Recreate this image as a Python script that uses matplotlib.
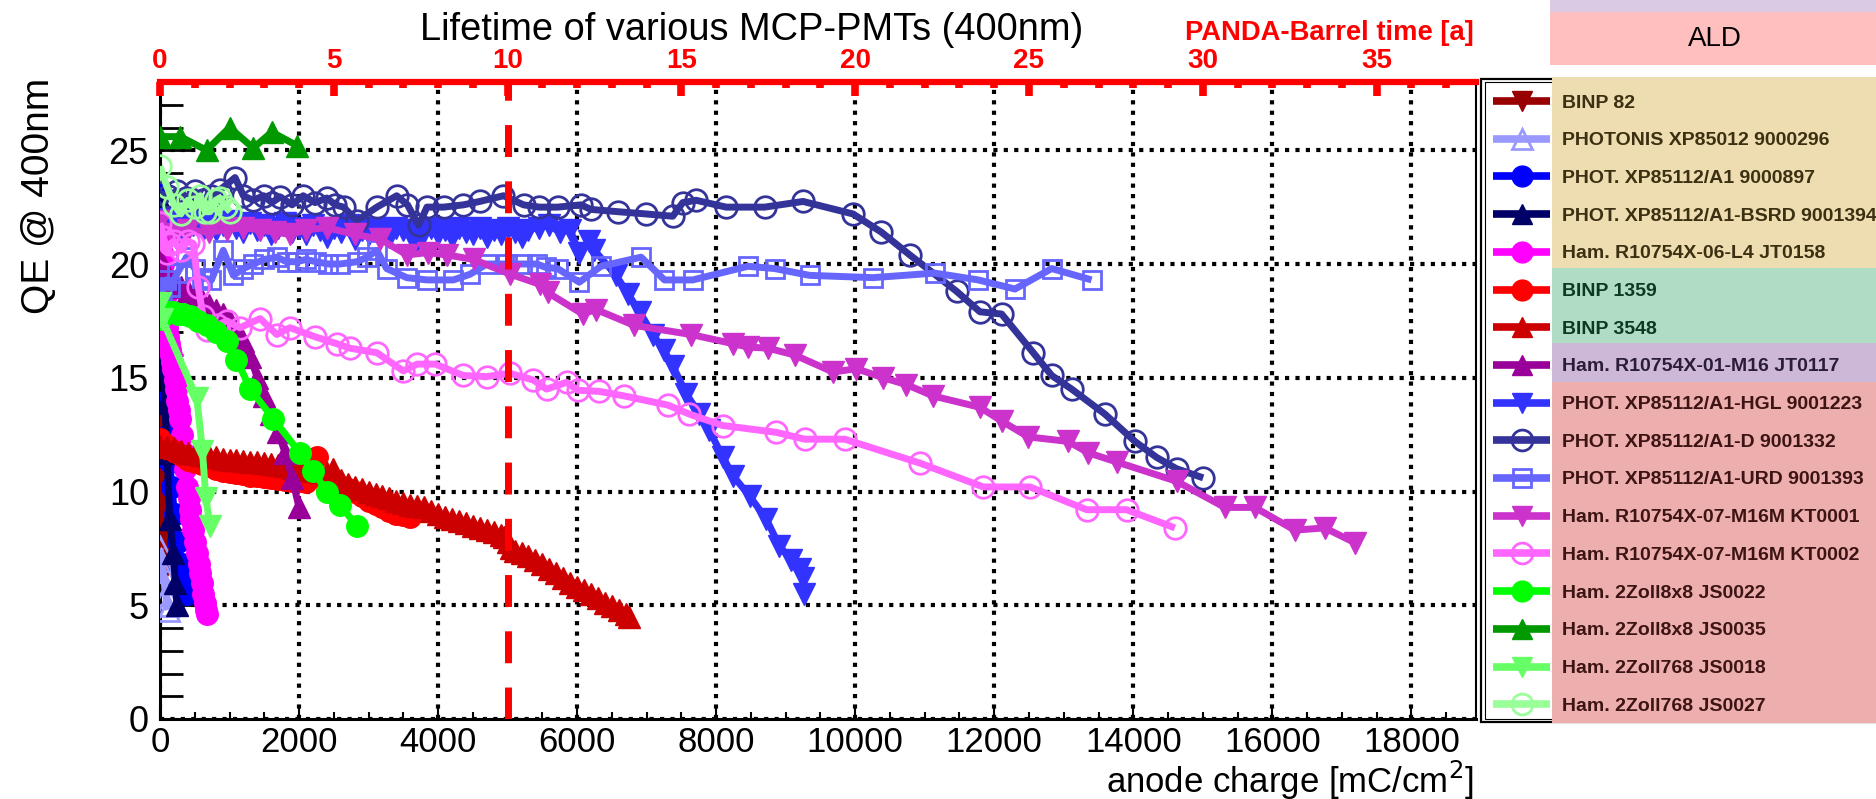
import matplotlib
matplotlib.use("Agg")
import matplotlib.pyplot as plt
from matplotlib.lines import Line2D
from matplotlib.patches import Rectangle
from matplotlib.ticker import MultipleLocator

plt.rcParams['font.family'] = ['Liberation Sans', 'DejaVu Sans']

# ---------------- data ----------------
binp82_x = [0, 5, 10, 15, 20, 25, 30, 35, 40, 45, 50, 55, 60, 65]
binp82_y = [13.7, 13.0, 12.3, 11.8, 11.2, 10.6, 10.0, 9.5, 9.0, 8.5, 8.0, 7.5, 7.0, 6.6]

xp85012_x = [0, 20, 40, 60, 80, 100, 120]
xp85012_y = [7.5, 7.0, 6.5, 6.0, 5.5, 5.0, 4.8]

a1_897_x = [0, 10, 25, 40, 60, 80, 110, 140, 170, 210, 260, 310, 360, 390]
a1_897_y = [23.1, 21.5, 19.5, 17.5, 15.5, 14.0, 12.5, 11.3, 10.2, 9.0, 7.8, 6.8, 6.0, 5.5]

bsrd_x = [0, 15, 30, 50, 70, 100, 140, 190, 220, 245]
bsrd_y = [22.8, 20.0, 17.5, 15.5, 13.9, 11.7, 8.8, 7.3, 6.0, 5.0]

jt0158_x = [0, 10, 20, 30, 40, 50, 60, 70, 80, 90, 100, 115, 130, 145, 160, 175, 190, 210, 230,
            250, 270, 290, 315, 340, 360, 385, 410, 430, 450, 475, 500, 530, 560, 580, 600, 625,
            650, 665, 680]
jt0158_y = [21.7, 21.3, 21.0, 20.5, 20.0, 19.5, 19.0, 18.5, 18.0, 17.6, 17.2, 16.8, 16.5, 16.2,
            16.0, 15.7, 15.4, 14.9, 14.5, 14.0, 13.6, 13.2, 12.5, 11.7, 11.0, 10.2, 9.7, 9.2, 8.8,
            8.3, 7.8, 7.3, 6.8, 6.4, 6.0, 5.5, 5.1, 4.8, 4.6]

binp1359_x = [0, 100, 200, 300, 400, 500, 600, 700, 800, 900, 1000, 1100, 1200, 1300, 1400, 1500,
              1600, 1700, 1800, 1900, 2000, 2100, 2260, 2400, 2500, 2600, 2700, 2800, 2900, 3000,
              3100, 3200, 3300, 3400, 3500, 3600]
binp1359_y = [12.3, 12.0, 11.8, 11.6, 11.4, 11.3, 11.2, 11.1, 11.0, 10.9, 10.85, 10.8, 10.75, 10.7,
              10.7, 10.65, 10.6, 10.55, 10.5, 10.45, 10.45, 10.4, 11.5, 10.3, 10.25, 10.2, 10.1, 10.0,
              9.8, 9.6, 9.45, 9.3, 9.15, 9.0, 8.95, 8.9]

binp3548_x = [0, 100, 200, 300, 400, 500, 600, 700, 800, 900, 1000, 1100, 1200, 1300, 1400, 1500,
              1600, 1700, 1800, 1900, 2000, 2100, 2200, 2300, 2400, 2490, 2600, 2700, 2800, 2900,
              3000, 3100, 3200, 3300, 3400, 3500, 3600, 3700, 3800, 3900, 4000, 4100, 4200, 4300,
              4400, 4500, 4600, 4700, 4800, 4900, 4950, 5000, 5050, 5100, 5200, 5300, 5400, 5500,
              5600, 5700, 5800, 5900, 6000, 6100, 6200, 6300, 6400, 6500, 6600, 6700, 6750]
binp3548_y = [12.0, 11.95, 11.9, 11.8, 11.7, 11.65, 11.6, 11.55, 11.5, 11.45, 11.4, 11.4, 11.35,
              11.3, 11.3, 11.25, 11.2, 11.15, 11.1, 11.05, 11.0, 10.95, 10.9, 10.85, 10.8, 11.0,
              10.5, 10.35, 10.2, 10.1, 10.0, 9.9, 9.8, 9.7, 9.6, 9.5, 9.4, 9.35, 9.3, 9.15, 9.0,
              8.9, 8.8, 8.7, 8.6, 8.5, 8.4, 8.3, 8.2, 8.1, 8.0, 7.8, 7.5, 7.4, 7.3, 7.15, 7.0, 6.8,
              6.6, 6.4, 6.2, 6.0, 5.8, 5.65, 5.5, 5.3, 5.1, 4.95, 4.8, 4.6, 4.5]

jt0117_x = [0, 50, 100, 200, 300, 400, 500, 600, 700, 800, 900, 1000, 1100, 1200, 1300, 1400,
            1500, 1600, 1700, 1800, 1900, 2000]
jt0117_y = [20.2, 19.8, 19.5, 19.2, 19.0, 18.8, 18.6, 18.4, 18.2, 18.0, 17.8, 17.5, 17.1, 16.6, 15.9, 15.0,
            14.2, 13.4, 12.6, 11.7, 10.6, 9.3]

hgl_x = [0, 80, 160, 240, 320, 400, 480, 560, 640, 720, 800, 900, 1000, 1100, 1200, 1300, 1400,
         1500, 1600, 1700, 1800, 1900, 2000, 2100, 2200, 2300, 2400, 2500, 2600, 2700, 2800, 2900,
         3000, 3100, 3200, 3300, 3400, 3500, 3600, 3700, 3800, 3900, 4000, 4100, 4200, 4300, 4400,
         4500, 4600, 4700, 4800, 4900, 5000, 5100, 5200, 5300, 5450, 5600, 5750, 5900, 6030, 6175,
         6250, 6560, 6730, 6900, 7090, 7250, 7380, 7570, 7760, 7900, 8100, 8240, 8480, 8720, 8910,
         9080, 9200, 9250, 9265]
hgl_y = [22.0, 21.8, 21.6, 21.9, 21.5, 21.8, 21.7, 21.9, 21.6, 21.8, 21.5, 21.7, 21.9, 21.6, 21.4,
         21.8, 21.5, 21.7, 21.3, 21.6, 21.8, 21.4, 21.6, 21.3, 21.7, 21.5, 21.2, 21.6, 21.4, 21.7,
         21.1, 21.5, 21.3, 21.6, 21.4, 21.2, 21.6, 21.5, 21.3, 21.0, 21.4, 21.6, 21.3, 21.5, 21.2,
         21.6, 21.4, 21.3, 21.6, 21.2, 21.5, 21.3, 21.6, 21.4, 21.2, 21.5, 21.6, 21.7, 21.4, 21.5,
         20.5, 21.0, 20.6, 19.5, 18.7, 17.9, 16.9, 16.2, 15.5, 14.3, 13.4, 12.7, 11.5, 10.7, 9.8,
         8.8, 7.6, 7.0, 6.6, 6.2, 5.5]

d1332_x = [0, 120, 240, 370, 500, 620, 740, 860, 1080, 1200, 1340, 1490, 1610, 1730, 1900, 2060,
           2230, 2400, 2520, 2640, 2830, 3120, 3405, 3560, 3720, 3840, 4080, 4365, 4600, 4940, 5230,
           5455, 5719, 6055, 6199, 6583, 6992, 7376, 7520, 7712, 8144, 8697, 9249, 9969, 10377,
           10785, 11458, 11794, 12106, 12562, 12826, 13114, 13593, 14024, 14335, 14623, 15006]
d1332_y = [23.1, 23.0, 23.2, 22.9, 23.2, 22.8, 23.0, 23.25, 23.8, 23.0, 22.8, 23.0, 22.7, 22.95, 22.6,
           23.0, 22.7, 22.9, 22.6, 22.5, 21.9, 22.5, 23.0, 22.6, 21.7, 22.5, 22.5, 22.6, 22.75, 23.0,
           22.6, 22.5, 22.5, 22.6, 22.4, 22.3, 22.2, 22.1, 22.7, 22.8, 22.5, 22.5, 22.75, 22.2, 21.4,
           20.4, 18.8, 17.9, 17.8, 16.1, 15.1, 14.5, 13.4, 12.2, 11.5, 11.0, 10.6]

urd_x = [0, 30, 90, 150, 250, 380, 500, 600, 740, 910, 1055, 1200, 1340, 1500, 1680, 1820, 1970,
         2100, 2250, 2420, 2590, 2830, 2980, 3120, 3260, 3550, 3840, 4220, 4460, 4700, 4990, 5200,
         5420, 5550, 5719, 6031, 6343, 6920, 7256, 7664, 8456, 8840, 9345, 10256, 11145, 11770,
         12298, 12826, 13400]
urd_y = [17.8, 18.8, 19.3, 19.0, 19.6, 20.3, 19.8, 19.4, 19.3, 20.6, 19.5, 19.8, 20.0, 20.2, 20.3,
         20.1, 20.1, 20.2, 20.1, 20.0, 20.0, 20.1, 20.3, 20.6, 19.8, 19.4, 19.3, 19.3, 19.55, 20.0,
         20.0, 20.0, 20.0, 19.85, 19.8, 19.2, 19.9, 20.3, 19.3, 19.3, 19.9, 19.8, 19.5, 19.4, 19.6,
         19.3, 18.9, 19.8, 19.3]

kt0001_x = [0, 190, 400, 700, 960, 1200, 1440, 1650, 1870, 2100, 2400, 2800, 3165, 3550, 3850,
            4125, 4510, 5040, 5470, 5575, 6079, 6271, 6823, 7640, 8240, 8456, 8744, 9129, 9681,
            10017, 10401, 10737, 11121, 11794, 12106, 12490, 13066, 13353, 13760, 14623, 15317,
            15749, 16323, 16755, 17186]
kt0001_y = [21.9, 21.3, 21.5, 21.4, 21.5, 21.6, 21.5, 21.4, 21.3, 21.5, 21.6, 21.3, 21.1, 20.4, 20.5,
            20.4, 20.2, 19.55, 19.1, 18.75, 17.8, 18.0, 17.3, 16.9, 16.5, 16.35, 16.3, 16.0, 15.25,
            15.4, 15.0, 14.7, 14.2, 13.7, 13.1, 12.4, 12.2, 11.7, 11.3, 10.45, 9.3,
            9.3, 8.3, 8.4, 7.75]

kt0002_x = [0, 50, 100, 150, 200, 300, 400, 480, 550, 620, 670, 815, 960, 1150, 1440, 1680, 1870,
            2230, 2540, 2730, 3120, 3500, 3700, 3960, 4360, 4700, 5030, 5370, 5560, 5850, 6007,
            6319, 6679, 7304, 7616, 8096, 8864, 9273, 9849, 10929, 11842, 12514, 13330, 13904, 14599]
kt0002_y = [21.8, 21.2, 20.5, 20.9, 21.0, 20.6, 21.0, 20.9, 19.0, 17.7, 17.1, 17.3, 17.5, 17.2, 17.6,
            16.9, 17.2, 16.8, 16.5, 16.3, 16.1, 15.3, 15.6, 15.6, 15.1, 15.05, 15.2, 14.9, 14.5, 14.8,
            14.45, 14.4, 14.2, 13.8, 13.4, 12.9, 12.6, 12.3, 12.3, 11.25, 10.2, 10.2, 9.2, 9.2, 8.4]

js0022_x = [0, 60, 120, 190, 260, 330, 430, 550, 670, 800, 960, 1100, 1300, 1630, 2010, 2200, 2400,
            2590, 2830]
js0022_y = [17.6, 17.8, 17.9, 17.9, 17.8, 17.8, 17.7, 17.5, 17.3, 17.0, 16.6, 15.8, 14.5, 13.2, 11.7,
            10.9, 10.0, 9.4, 8.5]

js0035_x = [0, 290, 670, 1000, 1340, 1610, 1970]
js0035_y = [25.6, 25.6, 25.0, 26.0, 25.1, 25.8, 25.2]

js0018_x = [0, 30, 530, 610, 660, 720]
js0018_y = [18.3, 17.6, 14.1, 11.8, 9.7, 8.5]

js0027_x = [0, 100, 200, 300, 400, 500, 580, 650, 720, 800, 860, 950, 1010]
js0027_y = [24.3, 23.4, 22.6, 22.2, 22.8, 22.5, 23.0, 22.3, 22.3, 22.8, 22.9, 22.5, 22.3]

labels = ["BINP 82", "PHOTONIS XP85012 9000296", "PHOT. XP85112/A1 9000897",
          "PHOT. XP85112/A1-BSRD 9001394", "Ham. R10754X-06-L4 JT0158", "BINP 1359",
          "BINP 3548", "Ham. R10754X-01-M16 JT0117", "PHOT. XP85112/A1-HGL 9001223",
          "PHOT. XP85112/A1-D 9001332", "PHOT. XP85112/A1-URD 9001393",
          "Ham. R10754X-07-M16M KT0001", "Ham. R10754X-07-M16M KT0002",
          "Ham. 2Zoll8x8 JS0022", "Ham. 2Zoll8x8 JS0035", "Ham. 2Zoll768 JS0018",
          "Ham. 2Zoll768 JS0027"]

series = [
    (binp82_x, binp82_y, '#990000', 'v', True),
    (xp85012_x, xp85012_y, '#9999FF', '^', False),
    (a1_897_x, a1_897_y, '#0000FF', 'o', True),
    (bsrd_x, bsrd_y, '#000066', '^', True),
    (jt0158_x, jt0158_y, '#FF00FF', 'o', True),
    (binp1359_x, binp1359_y, '#FF0000', 'o', True),
    (binp3548_x, binp3548_y, '#CC0000', '^', True),
    (jt0117_x, jt0117_y, '#990099', '^', True),
    (hgl_x, hgl_y, '#3333FF', 'v', True),
    (d1332_x, d1332_y, '#333399', 'o', False),
    (urd_x, urd_y, '#6666FF', 's', False),
    (kt0001_x, kt0001_y, '#CC33CC', 'v', True),
    (kt0002_x, kt0002_y, '#FF66FF', 'o', False),
    (js0022_x, js0022_y, '#00FF00', 'o', True),
    (js0035_x, js0035_y, '#009900', '^', True),
    (js0018_x, js0018_y, '#66FF66', 'v', True),
    (js0027_x, js0027_y, '#99FF99', 'o', False),
]

W, H = 1876, 799
XMAX = 18930
YEAR = 500.0

fig = plt.figure(figsize=(W / 100, H / 100), dpi=100)
ax = fig.add_axes([160 / W, 1 - 719 / H, (1476 - 160) / W, (719 - 82) / H])
ax.set_xlim(0, XMAX)
ax.set_ylim(0, 28)

for i, (xs, ys, c, m, filled) in enumerate(series):
    ax.plot(xs, ys, color=c, lw=5.0, marker=m, ms=15.5 if m != 's' else 13.5,
            mfc=c if filled else 'none', mec=c, mew=2.0 if not filled else 1.0,
            zorder=3 + i * 0.01, solid_capstyle='butt')

ax.axvline(5000, color='#FF0000', lw=5, dashes=(4.6, 3.5), zorder=10)

ax.xaxis.set_major_locator(MultipleLocator(2000))
ax.xaxis.set_minor_locator(MultipleLocator(500))
ax.yaxis.set_major_locator(MultipleLocator(5))
ax.yaxis.set_minor_locator(MultipleLocator(1))
ax.grid(True, which='major', color='black', lw=3.0, dashes=(1, 1.5))
ax.set_axisbelow(True)
ax.tick_params(axis='x', which='major', direction='in', length=9, width=1.5, labelsize=25, pad=5,
               top=False)
ax.tick_params(axis='x', which='minor', direction='in', length=5, width=1.5, top=False)
ax.tick_params(axis='y', which='major', direction='in', length=24, width=2, labelsize=26, pad=8,
               right=False)
ax.tick_params(axis='y', which='minor', direction='in', length=16.5, width=2, right=False)
for s in ['left', 'bottom']:
    ax.spines[s].set_linewidth(2.2)
ax.spines['right'].set_linewidth(1.5)
ax.spines['top'].set_visible(False)

# top axis (PANDA-Barrel time)
ax2 = ax.twiny()
ax2.set_xlim(0, XMAX / YEAR)
ax2.xaxis.set_major_locator(MultipleLocator(5))
ax2.xaxis.set_minor_locator(MultipleLocator(1))
ax2.tick_params(axis='x', which='major', direction='in', length=10, width=5.5, colors='#FF0000',
                labelsize=20, pad=6)
ax2.tick_params(axis='x', which='minor', direction='in', length=4.5, width=5.5, colors='#FF0000')
for lab in ax2.get_xticklabels():
    lab.set_fontweight('bold')
for s in ['left', 'right', 'bottom']:
    ax2.spines[s].set_visible(False)
ax2.spines['top'].set_color('#FF0000')
ax2.spines['top'].set_linewidth(4.5)

# texts
fig.text(752 / W, 1 - 40 / H, "Lifetime of various MCP-PMTs (400nm)", ha='center', va='baseline',
         fontsize=27.4)
fig.text(1474 / W, 1 - 40 / H, "PANDA-Barrel time [a]", ha='right', va='baseline',
         fontsize=19.7, fontweight='bold', color='#FF0000')
fig.text(1474 / W, 1 - 793 / H, "anode charge [mC/cm$^{2}$]", ha='right', va='baseline',
         fontsize=25)
fig.text(39 / W, 1 - 78 / H, "QE @ 400nm", ha='center', va='top', rotation=90, fontsize=28)

# legend / side panels in pixel coordinates
lax = fig.add_axes([0, 0, 1, 1], zorder=5)
lax.set_xlim(0, W)
lax.set_ylim(H, 0)
lax.axis('off')
lax.add_patch(Rectangle((1550, 0), W - 1550, 12, color='#DACAE4', lw=0))
lax.add_patch(Rectangle((1550, 12), W - 1550, 53, color='#FFBFBF', lw=0))
lax.text(1715, 39, "ALD", ha='center', va='center', fontsize=20)

lax.add_patch(Rectangle((1481, 79), W - 1481 + 5, 643, facecolor='white', edgecolor='black', lw=1.6))
lax.add_patch(Rectangle((1484.5, 82), W - 1484 + 5, 637, facecolor='none', edgecolor='black', lw=0.8))
groups = [(77, 268, '#EEDDB0', '#3C3012'), (268, 343, '#B0DBC4', '#0B3A22'),
          (343, 382, '#CDB9D7', '#2B1D3A'), (382, 723, '#EDAEAE', '#3D1414')]
for (y0, y1, fc, _) in groups:
    lax.add_patch(Rectangle((1552, y0), W - 1552, y1 - y0, color=fc, lw=0))


def text_color(row):
    if row < 5:
        return groups[0][3]
    if row < 7:
        return groups[1][3]
    if row < 8:
        return groups[2][3]
    return groups[3][3]


for i, (lab, (xs, ys, c, m, filled)) in enumerate(zip(labels, series)):
    yc = 101 + 37.7 * i
    lax.add_line(Line2D([1493, 1550], [yc, yc], color=c, lw=5.5, solid_capstyle='butt'))
    lax.add_line(Line2D([1522], [yc], color=c, marker=m, ms=15 if m != 's' else 13,
                        mfc=c if filled else 'none', mec=c, mew=2.0 if not filled else 1.0, lw=0))
    lax.text(1562, yc + 2, lab, ha='left', va='center', fontsize=14, fontweight='bold',
             color=text_color(i))

fig.savefig("out.png", dpi=100)
